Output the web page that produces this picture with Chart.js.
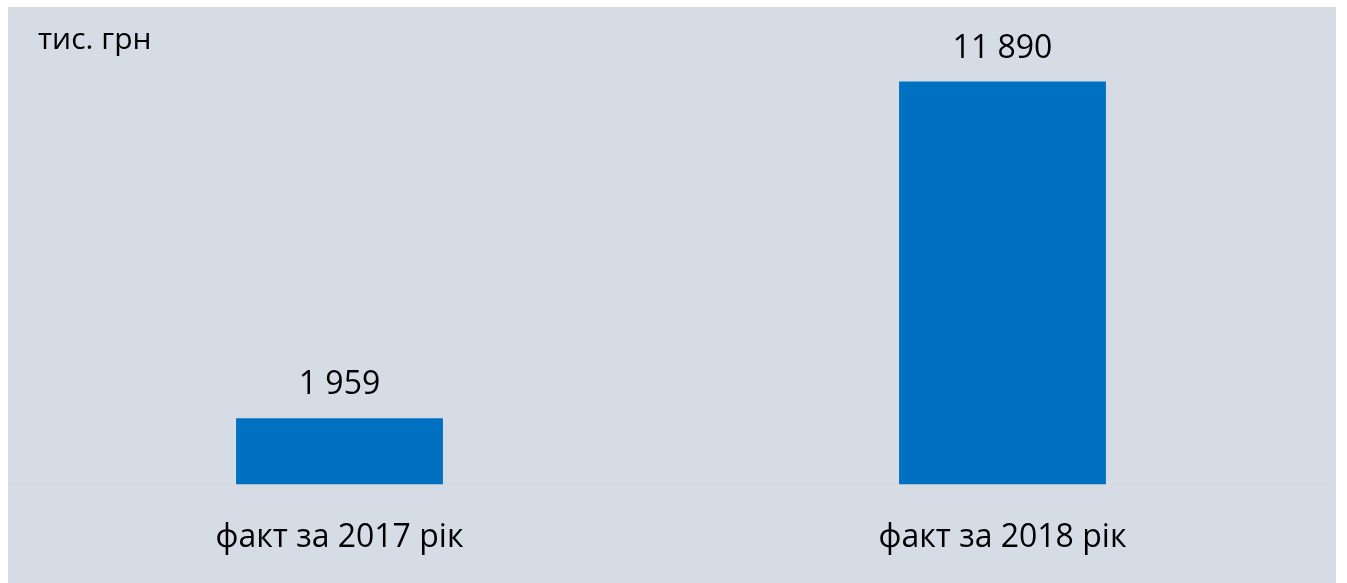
<!DOCTYPE html>
<html>
<head>
<meta charset="utf-8">
<script src="https://cdn.jsdelivr.net/npm/chart.js@4"></script>
<style>
  html, body { margin: 0; padding: 0; background: #ffffff; }
  #box { position: absolute; left: 8px; top: 7px; width: 1328px; height: 576px; background: #d6dce5; }
  canvas { display: block; }
</style>
</head>
<body>
<div id="box"><canvas id="chart" width="1328" height="576"></canvas></div>
<script>
// categories and values (тис. грн)
var categories = ['факт за 2017 рік', 'факт за 2018 рік'];
var values = [1959, 11890];
var valueLabels = ['1 959', '11 890'];
var unitLabel = 'тис. грн';

var fontFamily = '"Open Sans", "Liberation Sans", sans-serif';

// value labels above bars + unit caption
var labelsPlugin = {
    id: 'labels',
    afterDatasetsDraw: function (chart) {
        var ctx = chart.ctx;
        ctx.save();
        ctx.fillStyle = '#000000';
        ctx.font = '32px ' + fontFamily;
        ctx.textAlign = 'center';
        ctx.textBaseline = 'middle';
        chart.getDatasetMeta(0).data.forEach(function (bar, i) {
            ctx.fillText(valueLabels[i], bar.x, bar.y - 33);
        });
        ctx.font = '30px ' + fontFamily;
        ctx.textAlign = 'left';
        ctx.fillText(unitLabel, 30, 33);
        ctx.restore();
    }
};

var ctx = document.getElementById('chart').getContext('2d');
new Chart(ctx, {
    type: 'bar',
    data: {
        labels: categories,
        datasets: [{
            data: values,
            backgroundColor: '#0070c0',
            borderWidth: 0,
            barPercentage: 0.312,
            categoryPercentage: 1
        }]
    },
    options: {
        responsive: false,
        animation: false,
        layout: { padding: { left: 0, right: 2, top: 2, bottom: 0 } },
        plugins: {
            legend: { display: false },
            tooltip: { enabled: false }
        },
        scales: {
            x: {
                grid: { display: false },
                border: { display: true, color: '#d9d9d9', width: 1 },
                ticks: {
                    color: '#000000',
                    padding: 26,
                    font: { size: 32, family: fontFamily }
                }
            },
            y: {
                display: false,
                min: 0,
                max: 14030
            }
        }
    },
    plugins: [labelsPlugin]
});
</script>
</body>
</html>
